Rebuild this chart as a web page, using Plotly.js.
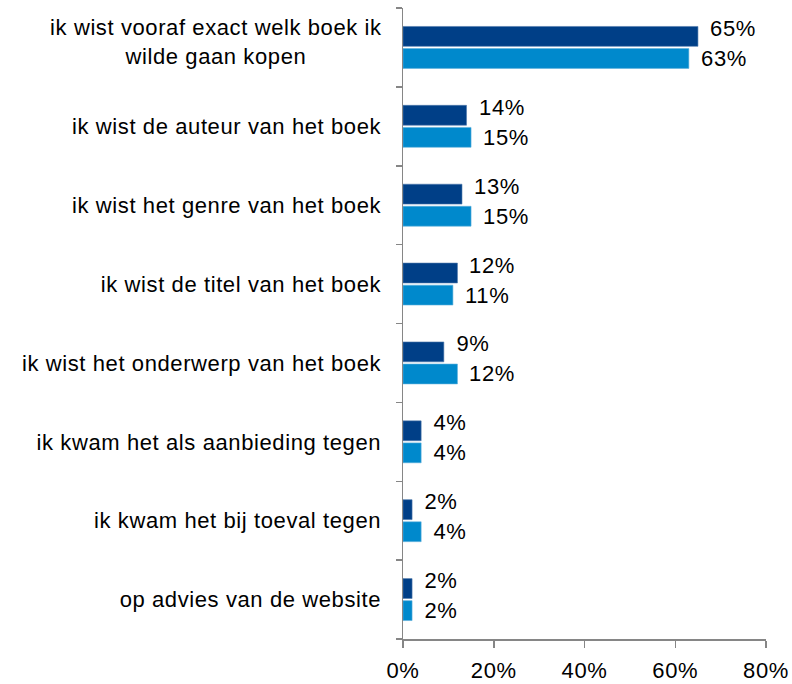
<!DOCTYPE html>
<html>
<head>
<meta charset="utf-8">
<script src="https://cdn.plot.ly/plotly-3.0.1.min.js"></script>
<style>html,body{margin:0;padding:0;background:#fff;}#chart{width:792px;height:684px;}#chart text{letter-spacing:0.6px;}</style>
</head>
<body>
<div id="chart"></div>
<script>
const categories = [
  "ik wist vooraf exact welk boek ik wilde gaan kopen",
  "ik wist de auteur van het boek",
  "ik wist het genre van het boek",
  "ik wist de titel van het boek",
  "ik wist het onderwerp van het boek",
  "ik kwam het als aanbieding tegen",
  "ik kwam het bij toeval tegen",
  "op advies van de website"
];
const tickLabels = [
  "",
  "ik wist de auteur van het boek",
  "ik wist het genre van het boek",
  "ik wist de titel van het boek",
  "ik wist het onderwerp van het boek",
  "ik kwam het als aanbieding tegen",
  "ik kwam het bij toeval tegen",
  "op advies van de website"
];
const firstLabel = "ik wist vooraf exact welk boek ik<br>wilde gaan kopen";
const series1 = [65, 14, 13, 12, 9, 4, 2, 2];
const series2 = [63, 15, 15, 11, 12, 4, 4, 2];
const xTicks = [0, 20, 40, 60, 80];

const font = "Liberation Sans, Arial, sans-serif";
const dark = "#003f87";
const light = "#0089cc";

const traces = [
  {type: "bar", orientation: "h", name: "reeks 1", y: categories, x: series1,
   marker: {color: dark, line: {color: "#4d79ab", width: 0.6}}, hoverinfo: "x+y"},
  {type: "bar", orientation: "h", name: "reeks 2", y: categories, x: series2,
   marker: {color: light, line: {color: "#5fb0dc", width: 0.6}}, hoverinfo: "x+y"}
];

const annotations = [];
categories.forEach((c, i) => {
  annotations.push({x: series1[i], y: c, xref: "x", yref: "y", text: series1[i] + "%",
    showarrow: false, xanchor: "left", yanchor: "middle", xshift: 11, yshift: 19,
    font: {family: font, size: 22, color: "#000"}});
  annotations.push({x: series2[i], y: c, xref: "x", yref: "y", text: series2[i] + "%",
    showarrow: false, xanchor: "left", yanchor: "middle", xshift: 11, yshift: -11,
    font: {family: font, size: 22, color: "#000"}});
});
annotations.push({x: 0, y: categories[0], xref: "paper", yref: "y", text: firstLabel,
  showarrow: false, xanchor: "right", yanchor: "middle", align: "center", xshift: -28, yshift: 5,
  font: {family: font, size: 22, color: "#000"}});

const layout = {
  width: 792, height: 684,
  margin: {l: 403, r: 26, t: 8, b: 45},
  paper_bgcolor: "#fff", plot_bgcolor: "#fff",
  showlegend: false,
  barmode: "group", bargap: 0.44, bargroupgap: 0.1,
  font: {family: font, size: 22, color: "#000"},
  xaxis: {range: [0, 80], tickvals: xTicks, ticktext: xTicks.map(v => v + "%"),
    showgrid: false, zeroline: false, showline: true, linecolor: "#868686", linewidth: 1.5,
    ticks: "outside", ticklen: 7, tickcolor: "#868686", tickwidth: 1.5,
    ticklabelstandoff: 4,
    tickfont: {family: font, size: 22, color: "#000"}, fixedrange: true},
  yaxis: {type: "category", autorange: "reversed", categoryorder: "array", categoryarray: categories,
    tickvals: categories, ticktext: tickLabels, tickson: "boundaries",
    showgrid: false, zeroline: false, showline: true, linecolor: "#868686", linewidth: 1.5,
    ticks: "outside", ticklen: 6, tickcolor: "#868686", tickwidth: 1.5,
    ticklabelstandoff: 16,
    tickfont: {family: font, size: 22, color: "#000"}, fixedrange: true},
  annotations: annotations
};

Plotly.newPlot("chart", traces, layout, {displayModeBar: false, staticPlot: true});
</script>
</body>
</html>
